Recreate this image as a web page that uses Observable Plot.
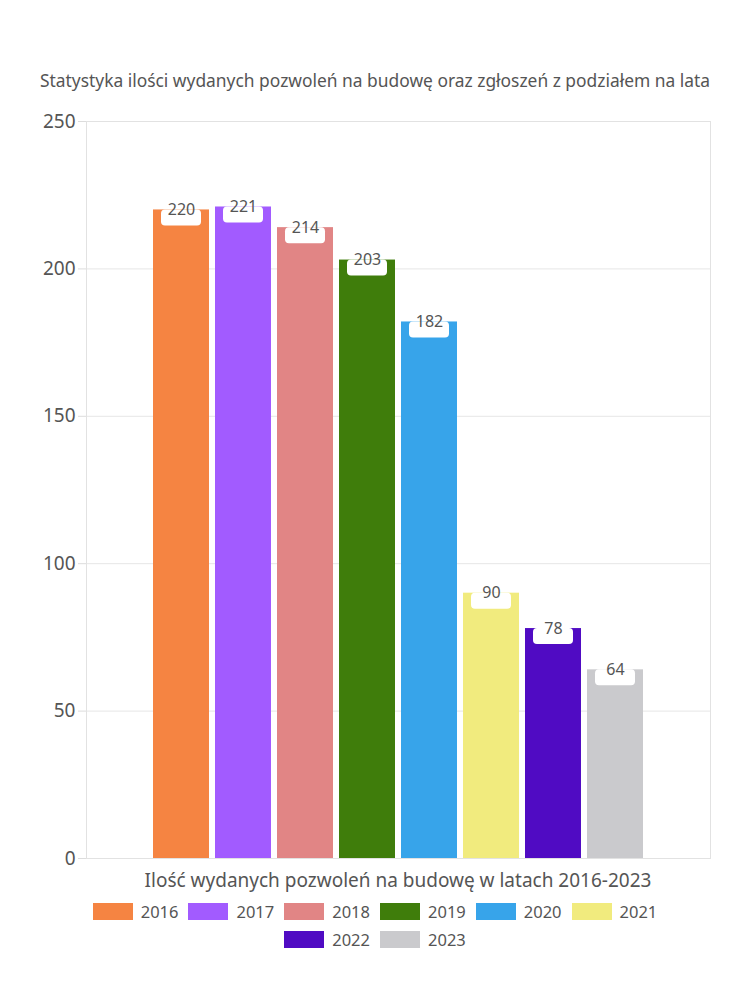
<!DOCTYPE html>
<html><head><meta charset="utf-8">
<script src="https://cdn.jsdelivr.net/npm/d3@7"></script>
<script src="https://cdn.jsdelivr.net/npm/@observablehq/plot@0.6"></script>
<style>
body{margin:0;background:#fff;font-family:"Noto Sans",sans-serif;color:#555;width:750px}
#title{padding-top:69px;height:22px;line-height:22px;text-align:center;font-size:17.4px;color:#555;white-space:nowrap}
#chart{height:772px;margin-top:9px}
#xtitle{text-align:center;font-size:19px;line-height:22px;height:22px;margin-top:-3px;padding-left:46px;color:#555;white-space:nowrap}
#legend{display:flex;flex-wrap:wrap;justify-content:center;width:600px;margin:6px auto 0 auto}
.item{display:flex;align-items:center;height:28px;margin:0 5px;font-size:16.5px;color:#555}
.sw{width:40px;height:17px;margin-right:8px}
</style></head><body>
<div id="title">Statystyka ilości wydanych pozwoleń na budowę oraz zgłoszeń z podziałem na lata</div>
<div id="chart"></div>
<div id="xtitle">Ilość wydanych pozwoleń na budowę w latach 2016-2023</div>
<div id="legend"></div>
<script>
const years = ["2016","2017","2018","2019","2020","2021","2022","2023"];
const values = [220,221,214,203,182,90,78,64];
const colors = ["#f58442","#a25bff","#e18585","#3f7d0b","#37a4ea","#f1eb7e","#500bc3","#cacacd"];
const yTicks = [0,50,100,150,200,250];

const data = years.map((y,i)=>({year:y,value:values[i]}));

const chart = Plot.plot({
  width:750, height:772,
  marginTop:21, marginBottom:14, marginLeft:86, marginRight:40,
  style:{fontFamily:'"Noto Sans",sans-serif', background:"white", color:"#555", overflow:"visible"},
  x:{domain:years, paddingInner:0.1, paddingOuter:1.04, axis:null},
  y:{domain:[0,250], axis:null},
  color:{domain:years, range:colors},
  marks:[
    Plot.gridY(yTicks,{stroke:"#e6e6e6", strokeOpacity:1}),
    Plot.frame({stroke:"#e2e2e2"}),
    Plot.axisY(yTicks,{tickSize:8, stroke:"#dcdcdc", fill:"#555", tickPadding:3, fontSize:19, label:null}),
    Plot.barY(data,{x:"year", y:"value", fill:"year"}),
    Plot.barY(data,{x:"year", y1:"value", y2:"value", insetLeft:8, insetRight:8, insetBottom:-16, fill:"white", rx:4}),
    Plot.text(data,{x:"year", y:"value", text:d=>String(d.value), fontSize:16, fill:"#555"})
  ]
});
document.getElementById("chart").append(chart);

const legend = document.getElementById("legend");
years.forEach((y,i)=>{
  const it=document.createElement("div"); it.className="item";
  const sw=document.createElement("div"); sw.className="sw"; sw.style.background=colors[i];
  const t=document.createElement("span"); t.textContent=y;
  it.append(sw,t); legend.append(it);
});
</script>
</body></html>
